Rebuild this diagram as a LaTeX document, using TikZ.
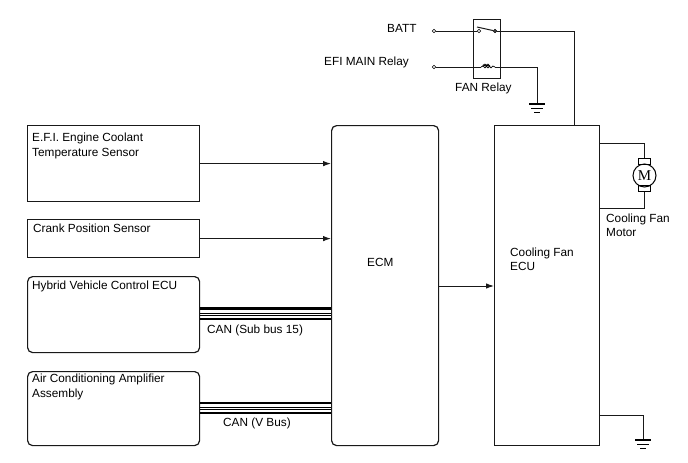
\documentclass[tikz,border=0pt]{standalone}
\usepackage{fontspec}
\setmainfont{Liberation Sans}
\newfontfamily\motorfont{Liberation Serif}
\usetikzlibrary{arrows.meta,calc}
\tikzset{
    block/.style={draw, line width=1.2pt, black!90, anchor=north west, inner sep=0pt},
    rblock/.style={block, rounded corners=5pt},
    wire/.style={draw, line width=1pt, black!90},
    label/.style={inner sep=0pt, anchor=west, font=\fontsize{11.8}{14.2}\selectfont, align=left},
    term/.style={circle, draw, inner sep=0pt, minimum size=3.5pt, fill=white},
    brush/.style={draw, line width=1pt, minimum width=12pt, minimum height=6pt, inner sep=0pt},
}
% earth symbol hanging below a point
\newcommand{\earth}[1]{
    \draw[line width=1.4pt] ($(#1)+(-8,0)$) -- ($(#1)+(8,0)$);
    \draw[line width=0.9pt] ($(#1)+(-6,4)$) -- ($(#1)+(6,4)$);
    \draw[line width=0.9pt] ($(#1)+(-3,8)$) -- ($(#1)+(3,8)$);
}

\begin{document}
\begin{tikzpicture}[x=1pt, y=-1pt, >={Latex[length=8pt,width=5.5pt]}]
    \useasboundingbox (0,0) rectangle (688,463);

    % left column
    \node[block, minimum width=172pt, minimum height=76pt] (coolant) at (27,125) {};
    \node[block, minimum width=172pt, minimum height=38pt] (crank) at (27,219) {};
    \node[rblock, minimum width=172pt, minimum height=76pt] (hybrid) at (27,276) {};
    \node[rblock, minimum width=172pt, minimum height=74pt] (aircon) at (27,371) {};
    \node[rblock, minimum width=107pt, minimum height=320pt] (ecm) at (331,125) {};
    \node[block, minimum width=105pt, minimum height=320pt] (fanecu) at (494,125) {};

    \node[label] (coolanttext) at (32,146) {E.F.I. Engine Coolant\\Temperature Sensor};
    \node[label] (cranktext) at (33,228) {Crank Position Sensor};
    \node[label] (hybridtext) at (32,286) {Hybrid Vehicle Control ECU};
    \node[label] (aircontext) at (32,387) {Air Conditioning Amplifier\\Assembly};
    \node[label] (ecmtext) at (367,262) {ECM};
    \node[label] (fanecutext) at (510,259) {Cooling Fan\\ECU};

    % signals into the ECM
    \draw[wire, ->] (coolant) -- (coolant -| ecm.west);
    \draw[wire, ->] (crank) -- (crank -| ecm.west);
    \draw[wire, ->] (ecm.east |- 0,286) -- (fanecu.west |- 0,286);

    % CAN lines
    \foreach \y in {308.5,319} {
        \draw[line width=2.6pt] (hybrid.east |- 0,\y) -- (ecm.west |- 0,\y);
    }
    \foreach \y in {403,413} {
        \draw[line width=2.6pt] (aircon.east |- 0,\y) -- (ecm.west |- 0,\y);
    }
    \foreach \y in {313,315} {
        \draw[line width=0.7pt] (hybrid.east |- 0,\y) -- (ecm.west |- 0,\y);
    }
    \foreach \y in {407.5,409} {
        \draw[line width=0.7pt] (aircon.east |- 0,\y) -- (ecm.west |- 0,\y);
    }
    \node[label] (cansub) at (207,330) {CAN (Sub bus 15)};
    \node[label] (canv) at (223,423) {CAN (V Bus)};

    % relay
    \node[block, minimum width=27pt, minimum height=59pt] (relay) at (473,19) {};
    \node[label] (batt) at (387,28) {BATT};
    \node[label] (efi) at (324,62) {EFI MAIN Relay};
    \node[label] (relaytext) at (455,88) {FAN Relay};
    \node[term] (battin) at (434,31) {};
    \node[term] (efiin) at (434,67) {};
    \node[term] (swa) at (479,31) {};
    \node[term, fill=black!70] (swb) at (495,31) {};
    \coordinate (swtip) at (477,27);
    \coordinate (coila) at (481,67);
    \coordinate (coilb) at (495,67);
    \coordinate (fanfeed) at (574,31);
    \coordinate (relaydrop) at (537,67);
    \coordinate (relayearth) at (537,104);
    \draw[wire] (battin) -- (swa);
    \draw[wire] (swb) -- (fanfeed) -- (fanfeed |- fanecu.north);
    \draw[wire] (swtip) -- (swb);
    \draw[wire] (efiin) -- (coila);
    % coil windings
    \draw[line width=0.7pt] (coila) -- (483,66)
        arc[start angle=180, end angle=-150, radius=1.9] -- (486,66)
        arc[start angle=180, end angle=-150, radius=1.9] -- (489,66)
        arc[start angle=180, end angle=0, radius=1.9] -- (coilb);
    \draw[wire] (coilb) -- (relaydrop) -- (relayearth);
    \earth{relayearth}

    % motor
    \node[draw, line width=1pt, circle, minimum size=23pt, inner sep=0pt, font=\fontsize{15}{15}\motorfont] (motor) at (644.5,175.5) {M};
    \node[brush] (brushup) at (644.5,161.5) {};
    \node[brush] (brushdown) at (644.5,188.5) {};
    \draw[wire] (fanecu.east |- 0,143) -| (brushup.north);
    \draw[wire] (fanecu.east |- 0,208) -| (brushdown.south);
    \node[label] (motortext) at (606,225) {Cooling Fan\\Motor};

    % body earth
    \coordinate (bodyearth) at (643,440);
    \draw[wire] (fanecu.east |- 0,415) -| (bodyearth);
    \earth{bodyearth}
\end{tikzpicture}
\end{document}
